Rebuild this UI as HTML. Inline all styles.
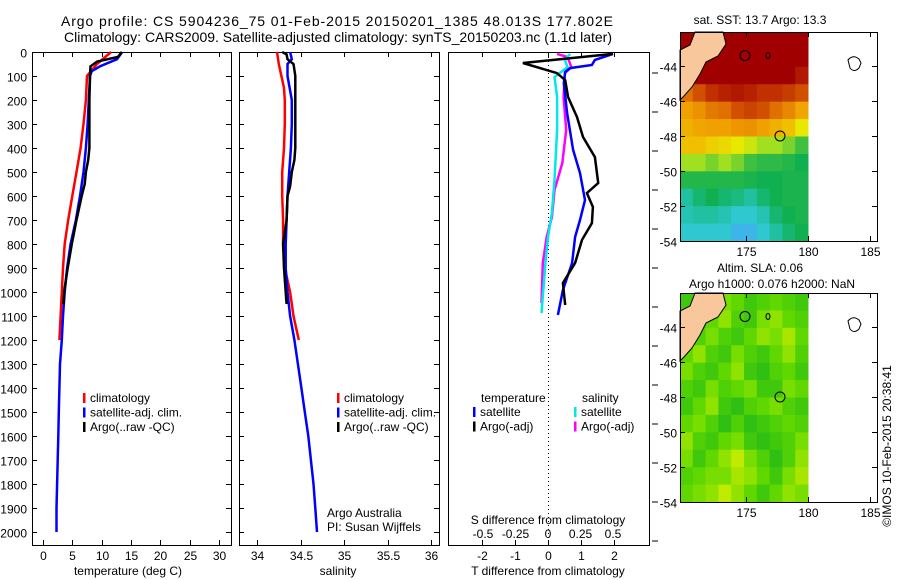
<!DOCTYPE html>
<html><head><meta charset="utf-8"><style>
html,body{margin:0;padding:0;background:#fff;}
svg{display:block;font-family:"Liberation Sans",sans-serif;}
text{fill:#000;}
</style></head><body>
<svg id="c" width="900" height="580" xmlns="http://www.w3.org/2000/svg">
<text x="337" y="26" font-size="14" text-anchor="middle" textLength="552">Argo profile: CS 5904236_75 01-Feb-2015 20150201_1385 48.013S 177.802E</text>
<text x="338" y="42" font-size="14" text-anchor="middle" textLength="548">Climatology: CARS2009. Satellite-adjusted climatology: synTS_20150203.nc (1.1d later)</text>
<g id="plots"></g>
</svg>
<script>
// ---------- data ----------
const tClimDepth=[0,50,100,200,300,400,500,600,700,800,900,1000,1100,1200];
const tClimVal=[11.6,9.2,7.5,7.3,6.9,6.4,5.7,5.0,4.3,3.7,3.4,3.2,3.0,2.8];
const tSatDepth=[0,30,60,80,100,200,300,400,500,600,700,800,900,1000,1100,1200,1300,1400,1500,1600,1700,1800,1900,2000];
const tSatVal=[13.5,12.6,9.7,8.3,8.0,7.8,7.6,7.3,6.9,6.3,5.6,4.7,4.1,3.7,3.4,3.2,2.9,2.8,2.7,2.6,2.5,2.4,2.3,2.3];
const tArgoDepth=[0,20,40,60,100,200,300,400,450,500,550,600,700,800,900,1000,1050];
const tArgoVal=[13.4,12.8,9.2,8.1,8.0,7.9,7.9,7.9,7.7,7.3,7.1,6.6,5.7,4.9,4.2,3.6,3.5];
const sClimDepth=[0,50,100,150,200,300,400,500,600,700,800,900,1000,1100,1200];
const sClimVal=[34.23,34.25,34.28,34.31,34.32,34.32,34.31,34.29,34.29,34.30,34.30,34.32,34.38,34.42,34.48];
const sSatDepth=[0,30,50,100,200,300,400,500,600,700,800,900,1000,1100,1200,1300,1400,1500,1600,1700,1800,1900,2000];
const sSatVal=[34.38,34.40,34.35,34.35,34.40,34.40,34.39,34.37,34.35,34.34,34.33,34.33,34.35,34.38,34.43,34.47,34.51,34.55,34.59,34.62,34.65,34.67,34.69];
const sArgoDepth=[0,10,30,50,100,200,300,400,450,500,560,600,700,800,900,1000,1050];
const sArgoVal=[34.29,34.34,34.35,34.42,34.44,34.44,34.44,34.44,34.43,34.40,34.38,34.35,34.34,34.30,34.31,34.33,34.34];
const dtSatDepth=[8,33,54,67,83,130,254,408,504,617,700,771,879,992,1096];
const dtSatVal=[1.97,1.42,1.33,0.67,0.52,0.48,0.58,0.76,0.97,1.12,0.97,0.82,0.73,0.45,0.30];
const dtArgoDepth=[8,46,88,117,188,271,354,438,546,588,646,713,783,879,963,1054];
const dtArgoVal=[1.97,-0.76,0.27,0.52,0.61,0.88,1.06,1.42,1.52,1.18,1.36,1.33,1.03,0.82,0.45,0.52];
const dsSatDepth=[8,33,63,104,188,325,533,671,771,879,1088];
const dsSatVal=[0.17,0.13,0.15,0.05,0.07,0.07,0.05,0.03,0.0,-0.02,-0.05];
const dsArgoDepth=[8,21,63,88,188,325,463,575,688,771,879,1046];
const dsArgoVal=[0.07,0.15,0.18,0.13,0.12,0.14,0.11,0.05,0.03,-0.01,-0.04,-0.05];
const depthTicks=[0,100,200,300,400,500,600,700,800,900,1000,1100,1200,1300,1400,1500,1600,1700,1800,1900,2000];
const tempTicks=[0,5,10,15,20,25,30];
const salTicks=[34,34.5,35,35.5,36];
const salTickLabels=["34","34.5","35","35.5","36"];
const dtTicks=[-2,-1,0,1,2];
const dsTicks=[-0.5,-0.25,0,0.25,0.5];
const dsTickLabels=["-0.5","-0.25","0","0.25","0.5"];
const sstGrid=[
[16,16,16,16,16,16,16,16,16,16],
[16,16,16,16,16,16,16,16,16,16],
[15.5,16,16,16,16,16,16,16,16,15.5],
[14,14.5,15,15.3,15.5,15.3,15,15,14.8,14.5],
[13,13.3,13.8,14,14.5,14.7,14.5,14,13.5,12.8],
[12.5,12.8,13,13,13.2,13.3,13,12.5,12,11.5],
[12,12,11.8,11.7,11.5,11.3,11,11,10.8,10.5],
[11,11,10.8,11,10.8,10.5,10.3,10.3,10.2,10],
[10.2,10.2,10.2,10.2,10.2,10.1,10,10,10.1,10.1],
[9.5,9.8,10,9.8,9.7,9.5,9.8,10,10.1,10.1],
[9.3,9.5,9.5,9.3,9,9,9.3,9.8,10,10.1],
[9,9,9,9,8.6,8.6,9,9.5,9.8,10]];
const slaGrid=[
[0.3,0.5,0.4,0.6,0.5,0.3,0.4,0.5,0.4,0.3],
[0.2,0.3,0.5,0.7,0.4,0.3,0.6,0.7,0.5,0.4],
[0.3,0.4,0.6,0.4,0.3,0.5,0.7,0.6,0.8,0.5],
[0.5,0.7,0.4,0.3,0.6,0.4,0.3,0.5,0.7,0.4],
[0.6,0.4,0.3,0.5,0.7,0.3,0.2,0.4,0.5,0.3],
[0.4,0.3,0.6,0.4,0.5,0.6,0.3,0.3,0.6,0.5],
[0.3,0.5,0.7,0.3,0.2,0.4,0.5,0.6,0.4,0.3],
[0.5,0.6,0.4,0.2,0.4,0.2,0.3,0.4,0.5,0.4],
[0.7,0.4,0.3,0.5,0.6,0.3,0.2,0.3,0.4,0.6],
[0.6,0.3,0.5,0.7,0.9,0.6,0.4,0.2,0.4,0.7],
[0.4,0.5,0.6,0.6,0.8,0.7,0.5,0.3,0.6,0.8],
[0.5,0.6,0.7,0.9,0.7,0.5,0.3,0.5,0.7,0.6]];
const lonTicks=[175,180,185];
const latTicks=[44,46,48,50,52,54];

// ---------- helpers ----------
const NS="http://www.w3.org/2000/svg";
const G=document.getElementById('plots');
function mk(tag,attrs,parent){const e=document.createElementNS(NS,tag);for(const k in attrs)e.setAttribute(k,attrs[k]);(parent||G).appendChild(e);return e;}
const yD=d=>52+0.24*d;
const xT=t=>43+5.87*t;
const xS=s=>257+87*(s-34);
const xDT=t=>548+33*t;
const xDS=s=>548+130*s;
function line(ds,vs,xf,color,name){
  const p=ds.map((d,i)=>xf(vs[i]).toFixed(1)+','+yD(d).toFixed(1)).join(' ');
  const e=mk('polyline',{points:p,fill:'none',stroke:color,'stroke-width':2.5});
  
  
}
function txt(x,y,s,size,anchor,name){
  const e=mk('text',{x:x,y:y,'font-size':size||12,'text-anchor':anchor||'start'});
  e.textContent=s;
  
  
  return e;
}
function frame(x0,x1,y0,y1,name){
  const e=mk('rect',{x:x0+0.5,y:y0+0.5,width:x1-x0,height:y1-y0,fill:'none',stroke:'#000','stroke-width':1});
  
  
}
function tick(x1,y1,x2,y2){const e=mk('line',{x1:x1,y1:y1,x2:x2,y2:y2,stroke:'#000','stroke-width':1});
  
  }

// ---------- panel 1: temperature ----------
frame(32,231,52,545,'temperature-panel');
depthTicks.forEach(d=>{const y=yD(d)+0.5;tick(32,y,37,y);tick(226,y,231,y);
  txt(27,y+5,String(d),12,'end','depth-tick-label');});
[frame];
tempTicks.forEach(t=>{const x=Math.round(xT(t))+0.5;tick(x,545,x,540);tick(x,52,x,57);
  txt(x,560,String(t),12,'middle','temp-tick-label');});
line(tClimDepth,tClimVal,xT,'#ff0000','temp-climatology-line');
line(tSatDepth,tSatVal,xT,'#0000ff','temp-satellite-line');
line(tArgoDepth,tArgoVal,xT,'#000000','temp-argo-line');
txt(128,575,'temperature (deg C)',12,'middle','x-axis-title-temperature');
function legend(x,y,items,prefix){items.forEach((it,i)=>{
  const e=mk('rect',{x:x,y:y+i*14.5-9,width:2.5,height:10,fill:it[1]});
  
  
  txt(x+7,y+i*14.5,it[0],12,'start',prefix+'-label');});}
legend(83,402,[['climatology','#ff0000'],['satellite-adj. clim.','#0000ff'],['Argo(..raw -QC)','#000']],'temp-legend');

// ---------- panel 2: salinity ----------
frame(239,439,52,545,'salinity-panel');
depthTicks.forEach(d=>{const y=yD(d)+0.5;tick(239,y,244,y);tick(434,y,439,y);});
salTicks.forEach((s,i)=>{const x=Math.round(xS(s))+0.5;tick(x,545,x,540);tick(x,52,x,57);
  txt(x,560,salTickLabels[i],12,'middle','salinity-tick-label');});
line(sClimDepth,sClimVal,xS,'#ff0000','salinity-climatology-line');
line(sSatDepth,sSatVal,xS,'#0000ff','salinity-satellite-line');
line(sArgoDepth,sArgoVal,xS,'#000000','salinity-argo-line');
txt(338,575,'salinity',12,'middle','x-axis-title-salinity');
legend(337,402,[['climatology','#ff0000'],['satellite-adj. clim.','#0000ff'],['Argo(..raw -QC)','#000']],'salinity-legend');
txt(327,517,'Argo Australia',12,'start','credit-argo-australia');
txt(327,531,'PI: Susan Wijffels',12,'start','credit-pi');

// ---------- panel 3: differences ----------
frame(448,649,52,545,'difference-panel');
dtTicks.forEach(t=>{const x=Math.round(xDT(t))+0.5;tick(x,545,x,540);tick(x,52,x,57);
  txt(x,560,String(t),12,'middle','t-diff-tick-label');});
dsTicks.forEach((s,i)=>{txt(xDS(s),538,dsTickLabels[i],12,'middle','s-diff-tick-label');});
{const e=mk('line',{x1:548.5,y1:53,x2:548.5,y2:545,stroke:'#000','stroke-width':1,'stroke-dasharray':'1,3'});
 
 }
for(let y=73;y<580;y+=39){tick(652,y,658,y);}
line(dsArgoDepth,dsArgoVal,xDS,'#ff00ff','s-diff-argo-line');
line(dsSatDepth,dsSatVal,xDS,'#00e8e8','s-diff-satellite-line');
line(dtSatDepth,dtSatVal,xDT,'#0000ff','t-diff-satellite-line');
line(dtArgoDepth,dtArgoVal,xDT,'#000000','t-diff-argo-line');
txt(481,402,'temperature',12,'start','legend-temperature-heading');
txt(582,402,'salinity',12,'start','legend-salinity-heading');
legend(473,416,[['satellite','#0000ff'],['Argo(-adj)','#000']],'t-diff-legend');
legend(574,416,[['satellite','#00e8e8'],['Argo(-adj)','#ff00ff']],'s-diff-legend');
txt(548,524,'S difference from climatology',12,'middle','s-diff-axis-title');
txt(548,575,'T difference from climatology',12,'middle','t-diff-axis-title');

// ---------- maps ----------
const sstStops=[[8.5,[64,176,240]],[9,[48,200,208]],[9.5,[32,192,160]],[10,[16,176,80]],[10.5,[64,192,64]],[11,[160,224,32]],[11.5,[232,232,0]],[12,[240,192,0]],[13,[240,160,0]],[14,[224,112,0]],[15,[192,48,0]],[16,[160,0,0]]];
const slaStops=[[0,[16,176,32]],[0.5,[96,216,0]],[1,[216,240,0]]];
function cmap(v,stops){if(v<=stops[0][0])return stops[0][1];for(let i=1;i<stops.length;i++){if(v<=stops[i][0]){const a=stops[i-1],b=stops[i],f=(v-a[0])/(b[0]-a[0]);return a[1].map((c,j)=>Math.round(c+(b[1][j]-c)*f));}}return stops[stops.length-1][1];}
const lonX=l=>808+(l-180)*12.4;
function drawMap(top,grid,stops,name){
  const bottom=top+209, dataR=808, left=680, right=877;
  const latY=l=>top+(l-42.06)*17.5;
  const cw=(dataR-left)/grid[0].length, chh=(bottom-top)/grid.length;
  grid.forEach((row,r)=>row.forEach((v,c)=>{
    const col=cmap(v,stops);
    const e=mk('rect',{x:left+c*cw,y:top+r*chh,width:cw+0.5,height:chh+0.5,fill:'rgb('+col.join(',')+')'});
    
    
  }));
  const land=mk('polygon',{points:`695,${top} 723,${top} 726,${top+12} 718,${top+24} 706,${top+30} 700,${top+42} 692,${top+55} 684,${top+64} 680,${top+68} 680,${top+18} 690,${top+13}`,fill:'#f8c89c',stroke:'#000','stroke-width':1});
  
  
  [[745,latY(43.4),5],[780,latY(48),5]].forEach(p=>{const e=mk('circle',{cx:p[0],cy:p[1],r:p[2],fill:'none',stroke:'#000','stroke-width':1});
    
    });
  {const e=mk('ellipse',{cx:768,cy:latY(43.4),rx:2,ry:3,fill:'none',stroke:'#000'});
   
   }
  {const e=mk('path',{d:`M848,${top+28} q5,-6 11,-1 l2,4 l-2,5 q-5,5 -9,0 z`,fill:'none',stroke:'#000'});
   
   }
  frame(left,right,top,bottom,name+'-frame');
  lonTicks.forEach(l=>{const x=Math.round(lonX(l))+0.5;tick(x,bottom,x,bottom-5);tick(x,top,x,top+5);
    txt(x,bottom+15,String(l),12,'middle',name+'-lon-label');});
  latTicks.forEach(l=>{const y=Math.round(latY(l))+0.5;tick(left,y,left+5,y);tick(right,y,right-5,y);
    txt(677,y+5,'-'+l,12,'end',name+'-lat-label');});
}
drawMap(32,sstGrid,sstStops,'sst-map');
drawMap(293,slaGrid,slaStops,'sla-map');
txt(760,24,'sat. SST: 13.7 Argo: 13.3',12,'middle','sst-map-title');
txt(760,272,'Altim. SLA: 0.06',12,'middle','sla-map-title-1');
txt(772,288,'Argo h1000: 0.076 h2000: NaN',12,'middle','sla-map-title-2');
{const t=txt(0,0,'©IMOS 10-Feb-2015 20:38:41',12,'middle','imos-timestamp');
 t.setAttribute('transform','translate(891,446) rotate(-90)');}
</script>
</body></html>
